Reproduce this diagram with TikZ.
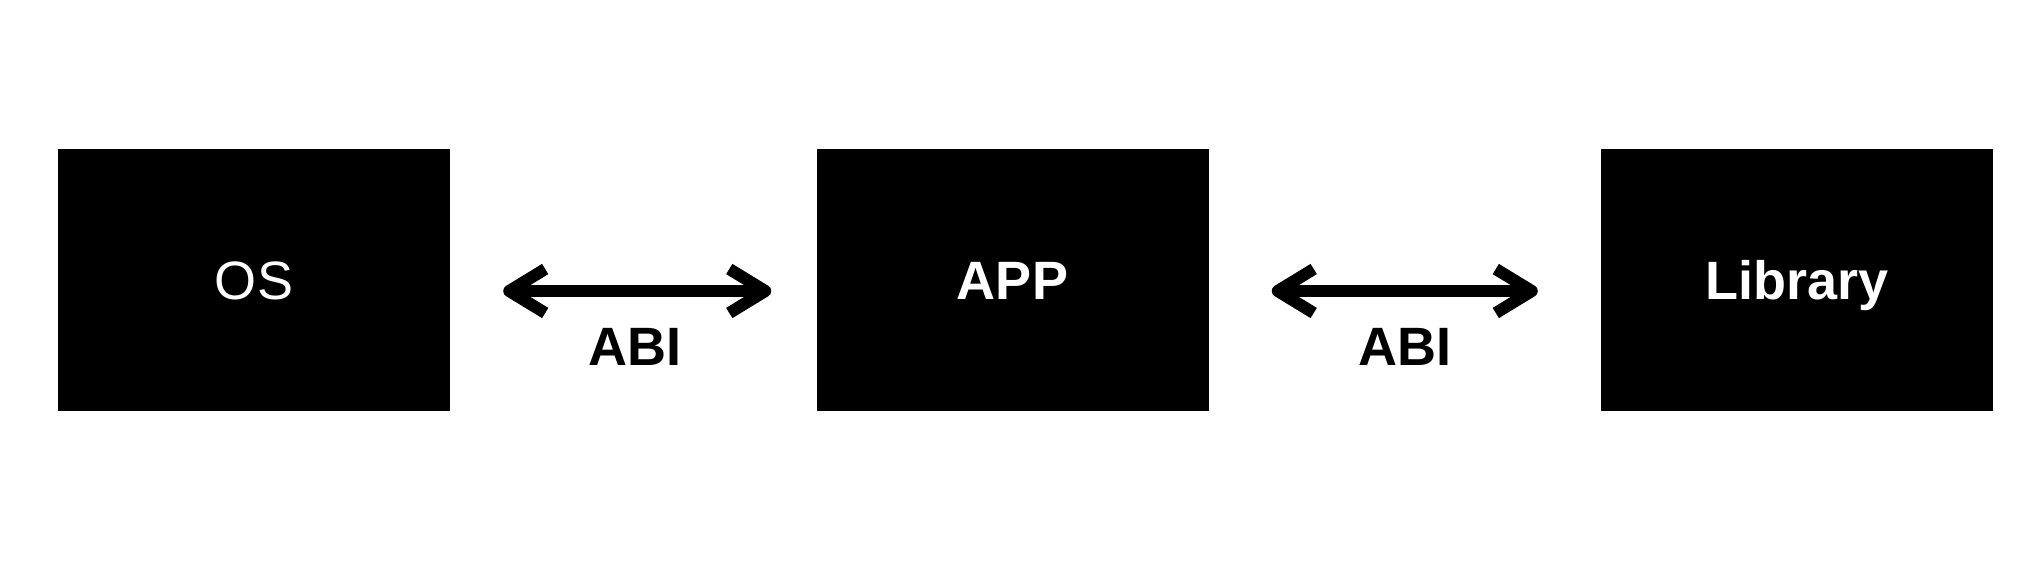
\documentclass[tikz,border=0pt]{standalone}
\usepackage{fontspec}
\setmainfont{Liberation Sans}
\usetikzlibrary{arrows.meta}
\begin{document}
\begin{tikzpicture}[x=1pt,y=-1pt,
  blk/.style={fill=black, draw=none, minimum width=392pt, minimum height=262pt, inner sep=0pt,
    text=white, font=\fontsize{54}{54}\selectfont},
  capbox/.style={inner sep=0pt, text height=39pt, text depth=0pt},
  barb/.tip={Straight Barb[length=36pt,width=44pt,line join=round,line cap=butt]},
  abi/.style={line width=12pt, barb-barb},
  abilabel/.style={font=\fontsize{54}{54}\selectfont\bfseries, inner sep=0pt, text height=39pt, text depth=0pt, anchor=north}
]
\useasboundingbox (0,0) rectangle (2038,584);
\node[blk] (os) at (254,280) {};
\node[capbox,text=white,font=\fontsize{54}{54}\selectfont] at (os) {OS};
\node[blk] (app) at (1012.5,280) {};
\node[capbox,text=white,font=\fontsize{54}{54}\selectfont\bfseries] at (app) {APP};
\node[blk] (lib) at (1797,280) {};
\node[capbox,text=white,font=\fontsize{54}{54}\selectfont\bfseries] at (lib) {Library};
\draw[abi, shorten <=53pt, shorten >=45pt] ([yshift=-11pt]os.east) -- ([yshift=-11pt]app.west)
  node[midway, abilabel, yshift=-29pt, xshift=2pt] {ABI};
\draw[abi, shorten <=63pt, shorten >=63pt] ([yshift=-11pt]app.east) -- ([yshift=-11pt]lib.west)
  node[midway, abilabel, yshift=-29pt] {ABI};
\end{tikzpicture}
\end{document}
